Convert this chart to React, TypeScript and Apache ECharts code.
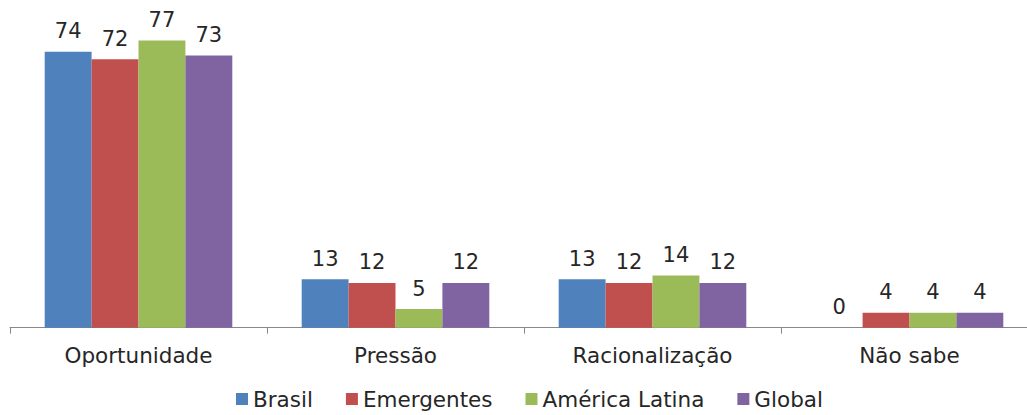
import React, { useEffect, useRef } from "react";
import * as echarts from "echarts";

const categories = ["Oportunidade", "Pressão", "Racionalização", "Não sabe"];
const seriesNames = ["Brasil", "Emergentes", "América Latina", "Global"];
const brasil = [74, 13, 13, 0];
const emergentes = [72, 12, 12, 4];
const americaLatina = [77, 5, 14, 4];
const global = [73, 12, 12, 4];
const colors = ["#4F81BD", "#C0504D", "#9BBB59", "#8064A2"];

const FONT = "'DejaVu Sans', sans-serif";
const TEXT = "#262626";

export default function App() {
  const ref = useRef<HTMLDivElement>(null);

  useEffect(() => {
    if (!ref.current) return;
    const chart = echarts.init(ref.current, undefined, { renderer: "svg" });
    const values = [brasil, emergentes, americaLatina, global];
    chart.setOption({
      animation: false,
      color: colors,
      // the plot area runs a little past the right edge of the window
      grid: { left: 10, right: 0, top: 29.3, bottom: 87.3 },
      legend: {
        bottom: 0,
        left: 231,
        itemWidth: 12,
        itemHeight: 12,
        itemGap: 33,
        icon: "rect",
        textStyle: { fontFamily: FONT, fontSize: 21.5, color: TEXT },
        data: seriesNames,
      },
      xAxis: {
        type: "category",
        data: categories,
        axisLine: { lineStyle: { color: "#888888", width: 1 } },
        axisTick: { show: true, length: 6, lineStyle: { color: "#888888" } },
        axisLabel: {
          fontFamily: FONT,
          fontSize: 21.5,
          color: TEXT,
          margin: 17,
        },
      },
      yAxis: {
        type: "value",
        min: 0,
        max: 80,
        show: false,
        splitLine: { show: false },
      },
      series: seriesNames.map((name, i) => ({
        name,
        type: "bar",
        data: values[i],
        barGap: "0%",
        barCategoryGap: "27%",
        label: {
          show: true,
          position: "top",
          distance: 10,
          fontFamily: FONT,
          fontSize: 21,
          color: TEXT,
        },
      })),
    });
    return () => chart.dispose();
  }, []);

  return (
    <div
      ref={ref}
      style={{ position: "fixed", left: 0, top: 0, width: 1038, height: 415, background: "#fff" }}
    />
  );
}
